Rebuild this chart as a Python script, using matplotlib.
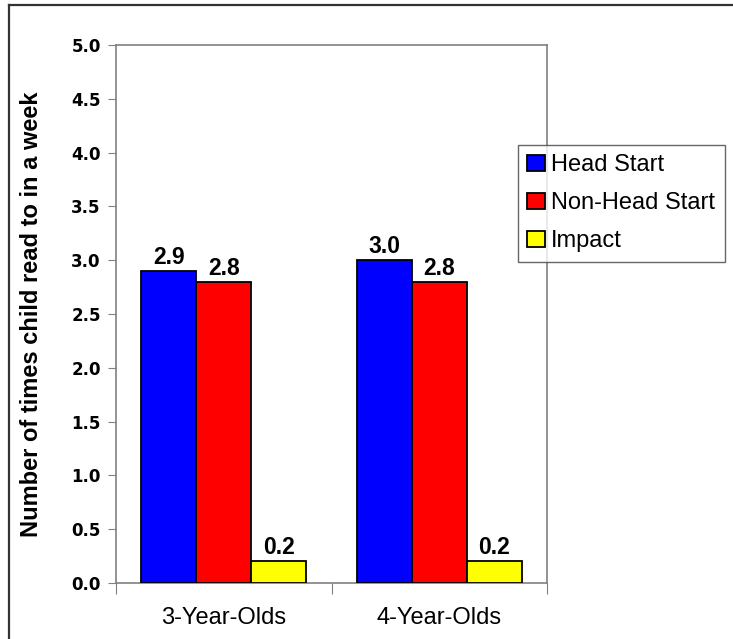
import matplotlib
matplotlib.use("Agg")
import matplotlib.pyplot as plt
from matplotlib.lines import Line2D
import numpy as np

plt.rcParams['font.family'] = ['Liberation Sans', 'DejaVu Sans']

categories = ["3-Year-Olds", "4-Year-Olds"]
series_names = ["Head Start", "Non-Head Start", "Impact"]
head_start = [2.9, 3.0]
non_head_start = [2.8, 2.8]
impact = [0.2, 0.2]
colors = ["#0000FF", "#FF0000", "#FFFF00"]
y_ticks = [0.0, 0.5, 1.0, 1.5, 2.0, 2.5, 3.0, 3.5, 4.0, 4.5, 5.0]

fig = plt.figure(figsize=(7.33, 6.39), dpi=100)
# outer frame: only top and left edges visible
fig.lines.append(Line2D([8.5/733, 8.5/733], [0, 1-4.5/639], transform=fig.transFigure,
                        color='#333333', linewidth=1.6))
fig.lines.append(Line2D([8.5/733, 1.0], [1-4.5/639, 1-4.5/639], transform=fig.transFigure,
                        color='#333333', linewidth=1.6))

ax = fig.add_axes([116/733, 1-583/639, (547-116)/733, (583-45)/639])

x = np.arange(len(categories))
w = 0.255
series = [head_start, non_head_start, impact]
for i, (vals, name, c) in enumerate(zip(series, series_names, colors)):
    pos = x + (i - 1) * w
    ax.bar(pos, vals, width=w, color=c, edgecolor='black', linewidth=1.3, label=name, zorder=3)
    for p, v in zip(pos, vals):
        ax.text(p, v + 0.02, f"{v:.1f}", ha='center', va='bottom', fontsize=16.5,
                fontweight='bold', zorder=4)

ax.set_xlim(-0.5, 1.5)
ax.set_ylim(0, 5.0)
ax.set_yticks(y_ticks)
ax.set_yticklabels([f"{t:.1f}" for t in y_ticks], fontsize=12, fontweight='bold',
                   family=['DejaVu Sans'])
ax.set_xticks([-0.5, 0.5, 1.5])
ax.set_xticklabels([])
ax.set_xticks([0, 1], minor=True)
ax.set_xticklabels(categories, minor=True, fontsize=17)
ax.tick_params(axis='x', which='minor', length=0, pad=17)
ax.tick_params(axis='x', which='major', length=8, direction='out', color='#808080')
ax.tick_params(axis='y', length=6, direction='out', color='#808080', pad=5)
for s in ax.spines.values():
    s.set_color('#808080')
    s.set_linewidth(1.2)
ax.set_ylabel("Number of times child read to in a week", fontsize=17, fontweight='bold', labelpad=20)

leg = ax.legend(loc='upper left', bbox_to_anchor=(518/733, 1-145/639), bbox_transform=fig.transFigure,
                fontsize=17, frameon=True, fancybox=False, edgecolor='#404040',
                handlelength=0.75, handleheight=0.7, handletextpad=0.25, labelspacing=0.67,
                borderpad=0.4, borderaxespad=0)
leg.get_frame().set_linewidth(1.0)

fig.savefig("out.png", dpi=100)
